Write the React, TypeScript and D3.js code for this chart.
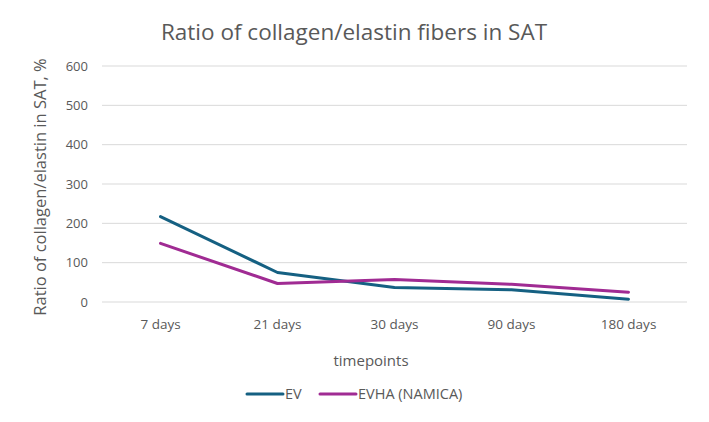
import React from 'react';
import * as d3 from 'd3';

// chart data
const categories = ['7 days', '21 days', '30 days', '90 days', '180 days'];
const evValues = [217, 75, 37, 31, 7];
const evhaValues = [149, 47, 57, 45, 25];
const yTicks = [0, 100, 200, 300, 400, 500, 600];
const seriesNames = ['EV', 'EVHA (NAMICA)'];

const width = 709;
const height = 422;
const margin = { left: 102, right: 22, top: 66, bottom: 120 };
const colors = ['#156082', '#A02B93'];
const font = "'Open Sans', 'Noto Sans', sans-serif";

export default function App() {
  const x = d3
    .scaleBand()
    .domain(categories)
    .range([margin.left, width - margin.right]);
  const y = d3
    .scaleLinear()
    .domain([0, 600])
    .range([height - margin.bottom, margin.top]);

  const line = d3
    .line<number>()
    .x((d, i) => (x(categories[i]) as number) + x.bandwidth() / 2)
    .y((d) => y(d));

  const series = [evValues, evhaValues];
  const legendX = [247, 320];

  return (
    <div style={{ margin: -8 }}>
      <svg width={width} height={height} style={{ display: 'block' }} fontFamily={font}>
        <rect x={0.5} y={0.5} width={width - 2} height={height - 2} fill="#fff" stroke="#d9d9d9" />
        <text x={354} y={40} textAnchor="middle" fontSize={22.5} fill="#595959">
          Ratio of collagen/elastin fibers in SAT
        </text>
        {yTicks.map((t) => (
          <g key={t}>
            <line
              x1={margin.left}
              x2={width - margin.right}
              y1={y(t)}
              y2={y(t)}
              stroke="#d9d9d9"
              strokeWidth={1}
            />
            <text x={88} y={y(t)} dy="0.35em" textAnchor="end" fontSize={13} fill="#595959">
              {t}
            </text>
          </g>
        ))}
        {categories.map((c) => (
          <text
            key={c}
            x={(x(c) as number) + x.bandwidth() / 2}
            y={329}
            textAnchor="middle"
            fontSize={13.5}
            fill="#595959"
          >
            {c}
          </text>
        ))}
        <text
          transform="translate(46, 187) rotate(-90)"
          textAnchor="middle"
          fontSize={16.5}
          fill="#595959"
        >
          Ratio of collagen/elastin in SAT, %
        </text>
        <text x={371} y={366} textAnchor="middle" fontSize={15} fill="#595959">
          timepoints
        </text>
        {series.map((s, i) => (
          <path
            key={i}
            d={line(s) as string}
            fill="none"
            stroke={colors[i]}
            strokeWidth={3}
            strokeLinejoin="round"
            strokeLinecap="round"
          />
        ))}
        {seriesNames.map((n, i) => (
          <g key={n}>
            <line
              x1={legendX[i]}
              x2={legendX[i] + 36}
              y1={394}
              y2={394}
              stroke={colors[i]}
              strokeWidth={3}
              strokeLinecap="round"
            />
            <text x={legendX[i] + 38} y={394} dy="0.35em" fontSize={14.5} fill="#595959">
              {n}
            </text>
          </g>
        ))}
      </svg>
    </div>
  );
}
